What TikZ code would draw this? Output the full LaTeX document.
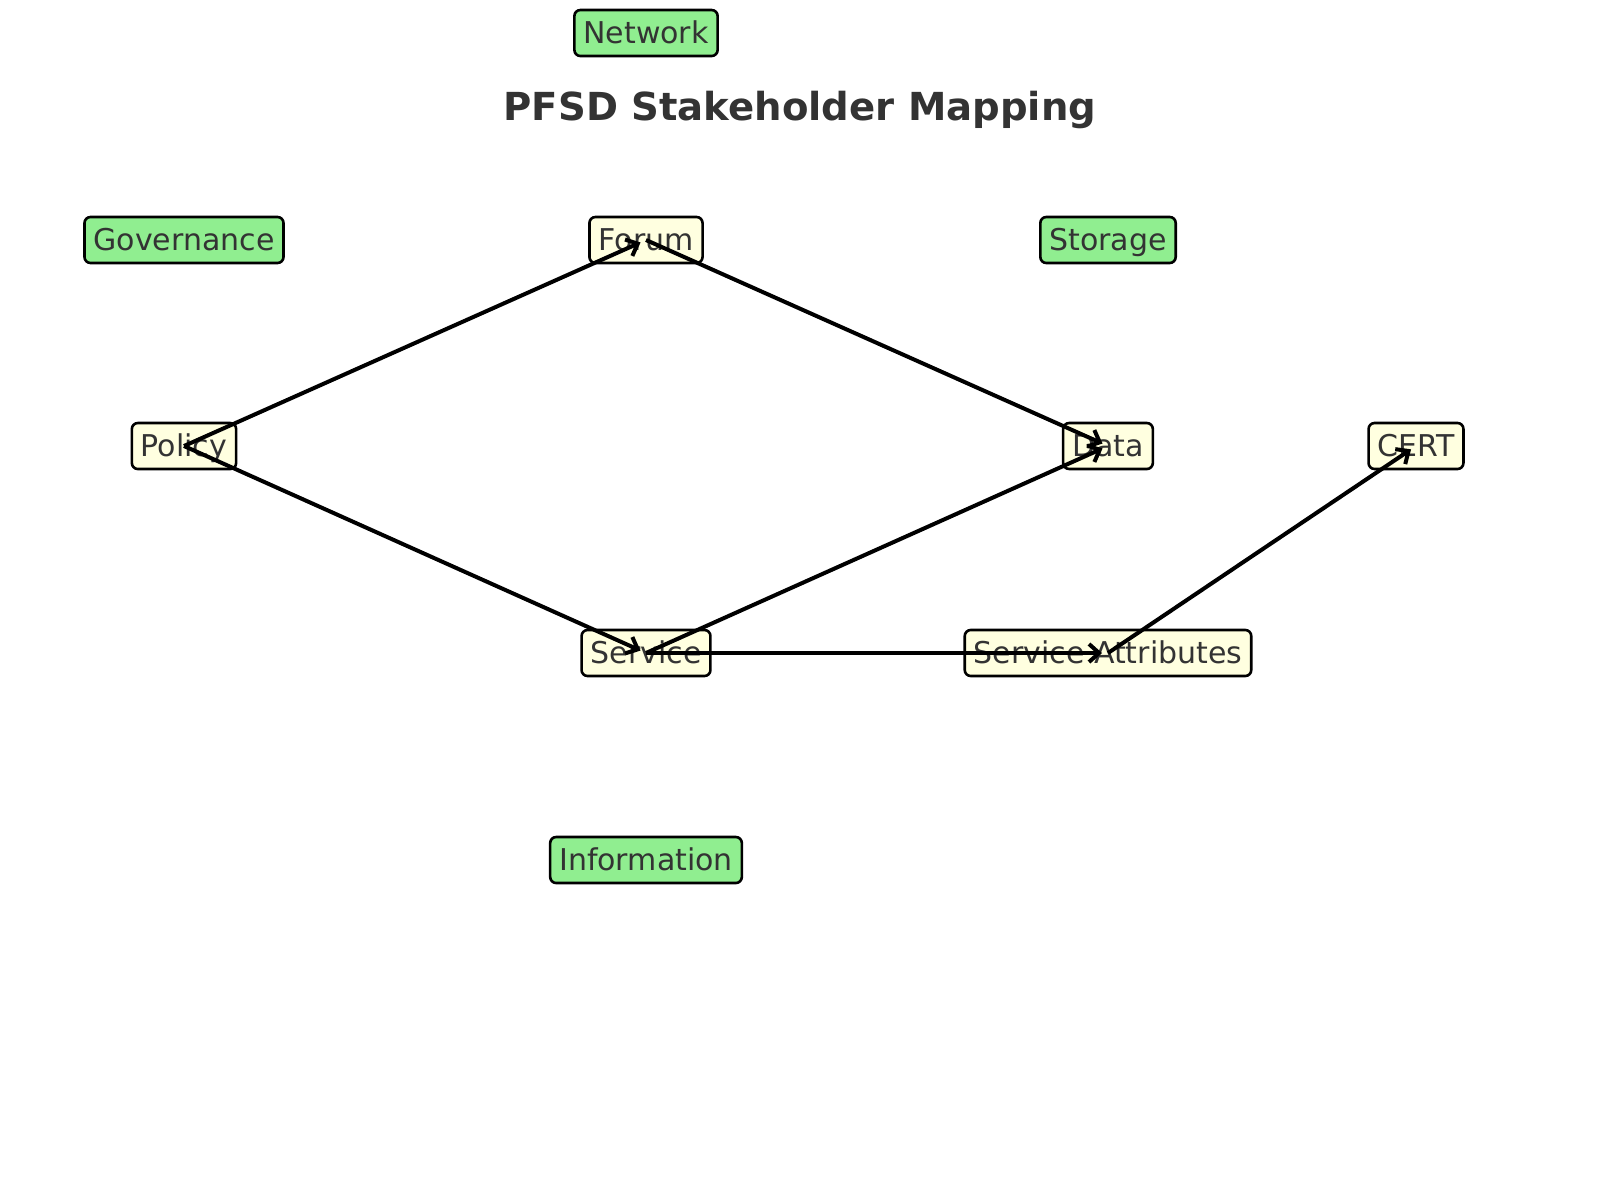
\documentclass[tikz,border=0pt]{standalone}
\usepackage{fontspec}
\setmainfont{DejaVu Sans}
\usetikzlibrary{arrows.meta}
\definecolor{boxgreen}{HTML}{90EE90}
\definecolor{boxyellow}{HTML}{FFFFE0}
\definecolor{txt}{HTML}{333333}
\tikzset{
  basebox/.style={draw=black, line width=1.3pt, rounded corners=3pt, text=txt,
    font=\fontsize{15pt}{18pt}\selectfont, inner xsep=4.5pt, inner ysep=0pt,
    minimum height=23pt, text height=12pt, text depth=2pt},
  catbox/.style={basebox, fill=boxgreen},
  itembox/.style={basebox, fill=boxyellow},
  link/.style={draw=black, line width=2pt, -{Straight Barb[length=5pt,width=9pt,line width=2pt]}, shorten >=3pt}
}
\begin{document}
\begin{tikzpicture}[x=0.5pt,y=-0.5pt]
\useasboundingbox[fill=white] (0,0) rectangle (1600,1200);
\node[font=\bfseries\fontsize{19.3pt}{23pt}\selectfont, text=txt] (title) at (800,110) {PFSD Stakeholder Mapping};
\node[catbox] (network) at (646,33) {Network};
\node[catbox] (governance) at (184,240) {Governance};
\node[itembox] (forum) at (646,240) {Forum};
\node[catbox] (storage) at (1108,240) {Storage};
\node[itembox] (policy) at (184,446) {Policy};
\node[itembox] (data) at (1108,446) {Data};
\node[itembox] (cert) at (1416,446) {CERT};
\node[itembox] (service) at (646,653) {Service};
\node[itembox] (attrs) at (1108,653) {Service Attributes};
\node[catbox] (information) at (646,860) {Information};
\draw[link] (policy.center) -- (forum.center);
\draw[link] (forum.center) -- (data.center);
\draw[link] (policy.center) -- (service.center);
\draw[link] (service.center) -- (data.center);
\draw[link] (service.center) -- (attrs.center);
\draw[link] (attrs.center) -- (cert.center);
\end{tikzpicture}
\end{document}
